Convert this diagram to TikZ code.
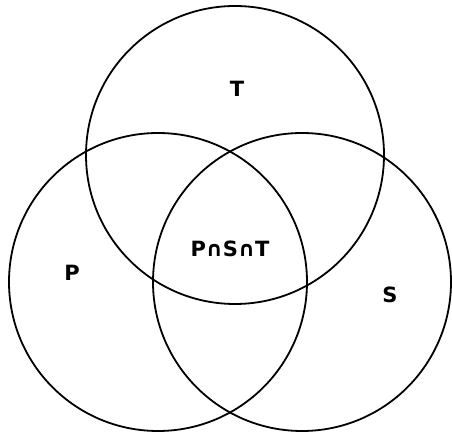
\documentclass[tikz,border=0pt]{standalone}
\usepackage{fontspec}
\newfontfamily\labelfont{DejaVu Sans}
\tikzset{
  setcircle/.style={circle, draw=black, line width=1.8pt, minimum size=298pt, inner sep=0pt},
  setlabel/.style={font=\labelfont\bfseries\fontsize{21}{23}\selectfont, inner sep=0pt}
}
\begin{document}
\begin{tikzpicture}[x=1pt,y=1pt]
\useasboundingbox (0,0) rectangle (452,441);
\node[setcircle] (T) at (235,286) {};
\node[setcircle] (P) at (158,159) {};
\node[setcircle] (S) at (302,159) {};
\node[setlabel] (lT) at (237,352) {T};
\node[setlabel] (lP) at (72,168) {P};
\node[setlabel] (lS) at (390,146) {S};
\node[setlabel] (lPST) at (230,192) {P∩S∩T};
\end{tikzpicture}
\end{document}
